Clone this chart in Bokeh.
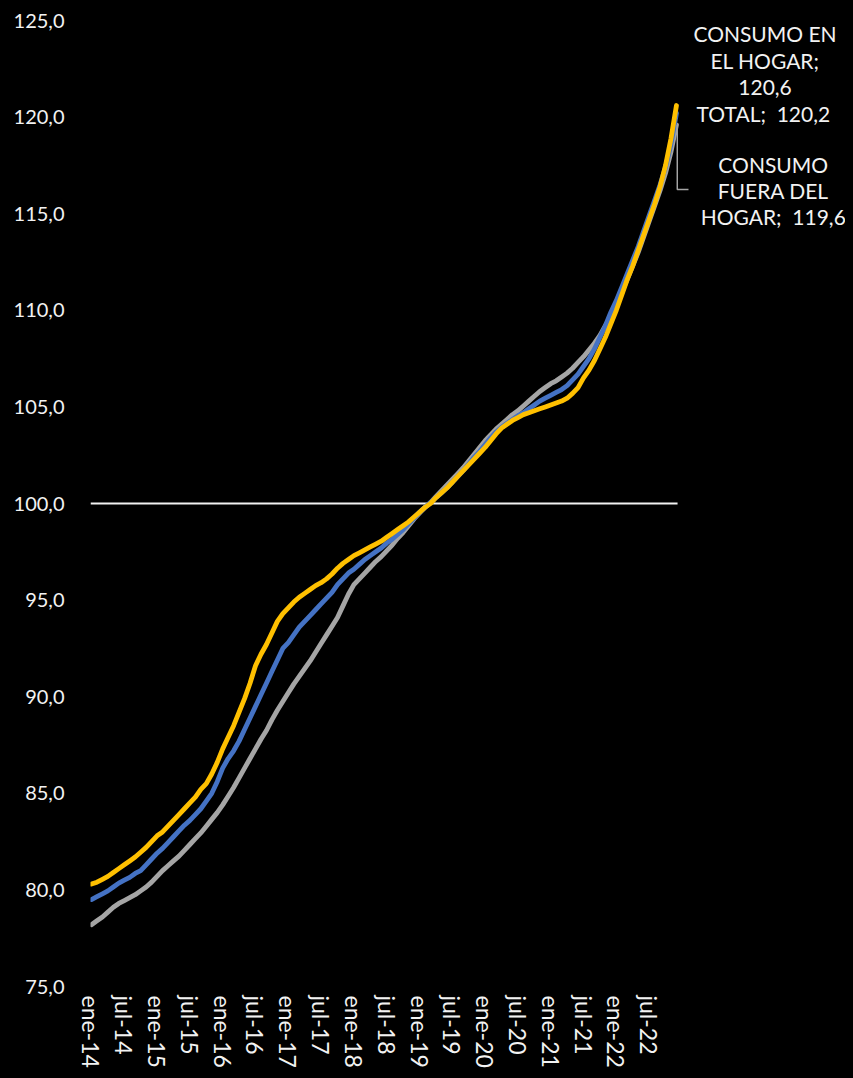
from bokeh.plotting import figure
from bokeh.models import Range1d, FixedTicker, ColumnDataSource
from bokeh.core.properties import value
from bokeh.embed import file_html
from bokeh.resources import INLINE

# ---- data (monthly index, ene-14 .. dic-22) ----
years = ["14", "15", "16", "17", "18", "19", "20", "21", "22"]
month_abbr = ["ene", "feb", "mar", "abr", "may", "jun", "jul", "ago", "sep", "oct", "nov", "dic"]
months = [f"{m}-{y}" for y in years for m in month_abbr]

consumo_hogar = [
    80.3, 80.4, 80.55, 80.7, 80.9, 81.1, 81.3, 81.5, 81.7, 81.95, 82.2, 82.5,
    82.8, 83.0, 83.3, 83.6, 83.9, 84.2, 84.5, 84.8, 85.2, 85.5, 86.0, 86.6,
    87.3, 87.9, 88.5, 89.2, 89.9, 90.7, 91.6, 92.2, 92.7, 93.3, 93.9, 94.3,
    94.6, 94.9, 95.15, 95.35, 95.55, 95.75, 95.9, 96.1, 96.35, 96.65, 96.9, 97.1,
    97.3, 97.45, 97.6, 97.75, 97.9, 98.05, 98.25, 98.45, 98.65, 98.85, 99.05, 99.3,
    99.55, 99.8, 100.0, 100.3, 100.55, 100.8, 101.1, 101.4, 101.7, 102.0, 102.3, 102.6,
    102.9, 103.25, 103.6, 103.9, 104.1, 104.3, 104.45, 104.6, 104.7, 104.8, 104.9, 105.0,
    105.1, 105.2, 105.3, 105.45, 105.7, 106.0, 106.5, 106.9, 107.4, 108.0, 108.6, 109.3,
    110.0, 110.8, 111.6, 112.3, 113.1, 113.9, 114.7, 115.5, 116.4, 117.5, 118.9, 120.6,
]
total = [
    79.5, 79.65, 79.8, 79.95, 80.15, 80.35, 80.5, 80.65, 80.85, 81.0, 81.3, 81.6,
    81.9, 82.15, 82.45, 82.75, 83.05, 83.35, 83.6, 83.9, 84.2, 84.6, 85.0, 85.6,
    86.3, 86.8, 87.2, 87.7, 88.3, 88.9, 89.5, 90.1, 90.7, 91.3, 91.9, 92.5,
    92.8, 93.2, 93.6, 93.9, 94.2, 94.5, 94.8, 95.1, 95.4, 95.8, 96.1, 96.4,
    96.6, 96.85, 97.1, 97.3, 97.5, 97.7, 97.95, 98.15, 98.4, 98.65, 98.95, 99.25,
    99.55, 99.8, 100.05, 100.3, 100.55, 100.8, 101.1, 101.4, 101.7, 102.05, 102.4, 102.7,
    103.05, 103.4, 103.7, 103.95, 104.15, 104.35, 104.55, 104.7, 104.9, 105.1, 105.3, 105.45,
    105.6, 105.75, 105.9, 106.1, 106.4, 106.7, 107.1, 107.5, 108.0, 108.6, 109.2, 109.9,
    110.5, 111.2, 111.9, 112.6, 113.3, 114.1, 114.9, 115.7, 116.5, 117.4, 118.6, 120.2,
]
consumo_fuera = [
    78.2, 78.4, 78.6, 78.85, 79.1, 79.3, 79.45, 79.6, 79.75, 79.95, 80.15, 80.4,
    80.7, 81.0, 81.25, 81.5, 81.75, 82.05, 82.35, 82.65, 82.95, 83.3, 83.65, 84.0,
    84.4, 84.85, 85.3, 85.8, 86.3, 86.8, 87.3, 87.8, 88.25, 88.8, 89.3, 89.75,
    90.2, 90.65, 91.05, 91.45, 91.85, 92.3, 92.75, 93.2, 93.65, 94.1, 94.7, 95.3,
    95.8, 96.1, 96.4, 96.7, 97.0, 97.25, 97.55, 97.85, 98.2, 98.5, 98.85, 99.2,
    99.5, 99.8, 100.05, 100.35, 100.65, 100.95, 101.25, 101.55, 101.85, 102.2, 102.55, 102.9,
    103.25, 103.55, 103.85, 104.1, 104.35, 104.6, 104.8, 105.05, 105.3, 105.55, 105.8, 106.0,
    106.2, 106.35, 106.55, 106.75, 107.0, 107.3, 107.6, 107.95, 108.3, 108.7, 109.2, 109.7,
    110.3, 110.95, 111.6, 112.3, 113.0, 113.8, 114.6, 115.4, 116.2, 117.1, 118.2, 119.6,
]

y_ticks = [75, 80, 85, 90, 95, 100, 105, 110, 115, 120, 125]
x_tick_step = 6

def fmt(v):
    return f"{v:.1f}".replace(".", ",")

FONT = "Lato"
TXT = "#f2f2f2"
C_FUERA, C_TOTAL, C_HOGAR = "#A5A5A5", "#4472C4", "#FFC000"

x = list(range(len(months)))

p = figure(width=845, height=1070, output_backend="svg", toolbar_location=None,
           x_range=Range1d(-0.18, 137.92), y_range=Range1d(75, 125),
           min_border_left=90, min_border_right=0, min_border_top=20, min_border_bottom=78)
p.background_fill_color = "#000000"
p.border_fill_color = "#000000"
p.outline_line_color = None
p.xgrid.visible = False
p.ygrid.visible = False

# y axis
p.yaxis.ticker = FixedTicker(ticks=y_ticks)
p.yaxis.major_label_overrides = {t: fmt(t) for t in y_ticks}
p.yaxis.axis_line_color = None
p.yaxis.major_tick_line_color = None
p.yaxis.minor_tick_line_color = None
p.yaxis.major_tick_out = 0
p.yaxis.major_tick_in = 0
p.yaxis.major_label_standoff = 26
p.yaxis.major_label_text_color = TXT
p.yaxis.major_label_text_font = FONT
p.yaxis.major_label_text_font_size = "20px"

# x axis
xt = list(range(0, len(months) - 1, x_tick_step))
p.xaxis.ticker = FixedTicker(ticks=xt)
p.xaxis.major_label_overrides = {t: months[t] for t in xt}
p.xaxis.major_label_orientation = "vertical"
p.xaxis.axis_line_color = None
p.xaxis.major_tick_line_color = None
p.xaxis.minor_tick_line_color = None
p.xaxis.major_tick_out = 0
p.xaxis.major_tick_in = 0
p.xaxis.major_label_standoff = 9
p.xaxis.major_label_text_color = TXT
p.xaxis.major_label_text_font = FONT
p.xaxis.major_label_text_font_size = "23px"

# horizontal line at 100
p.segment(x0=[-0.18], x1=[len(months) - 1 + 0.2], y0=[100], y1=[100],
          line_color=TXT, line_width=2)

for ys, col in [(consumo_fuera, C_FUERA), (total, C_TOTAL), (consumo_hogar, C_HOGAR)]:
    p.line(x, ys, line_color=col, line_width=4.8, line_cap="round", line_join="round")

# leader line for "fuera del hogar" label
last = len(months) - 1
p.line([last + 0.15, last + 0.15, last + 2.2], [consumo_fuera[-1], 116.25, 116.25],
       line_color=C_FUERA, line_width=1.5)

# data labels
lab_x, lab_y, lab_t = [], [], []
hog_lines = ["CONSUMO EN", "EL HOGAR;", fmt(consumo_hogar[-1])]
for i, t in enumerate(hog_lines):
    lab_x.append(last + 16.2)
    lab_y.append(124.33 - i * 1.39)
    lab_t.append(t)
lab_x.append(last + 15.9)
lab_y.append(total[-1])
lab_t.append(f"TOTAL;\u00a0 {fmt(total[-1])}")
fue_lines = ["CONSUMO", "FUERA DEL", f"HOGAR;\u00a0 {fmt(consumo_fuera[-1])}"]
for i, t in enumerate(fue_lines):
    lab_x.append(last + 17.7)
    lab_y.append(117.54 - i * 1.34)
    lab_t.append(t)

src = ColumnDataSource(dict(x=lab_x, y=lab_y, t=lab_t))
p.text(x="x", y="y", text="t", source=src, text_align="center", text_baseline="middle",
       text_color=TXT, text_font=value(FONT), text_font_size="21px")

html = file_html(p, INLINE)
html = html.replace("<head>", "<head><style>html, body { background: #000000; }</style>", 1)
open("out.html", "w").write(html)
